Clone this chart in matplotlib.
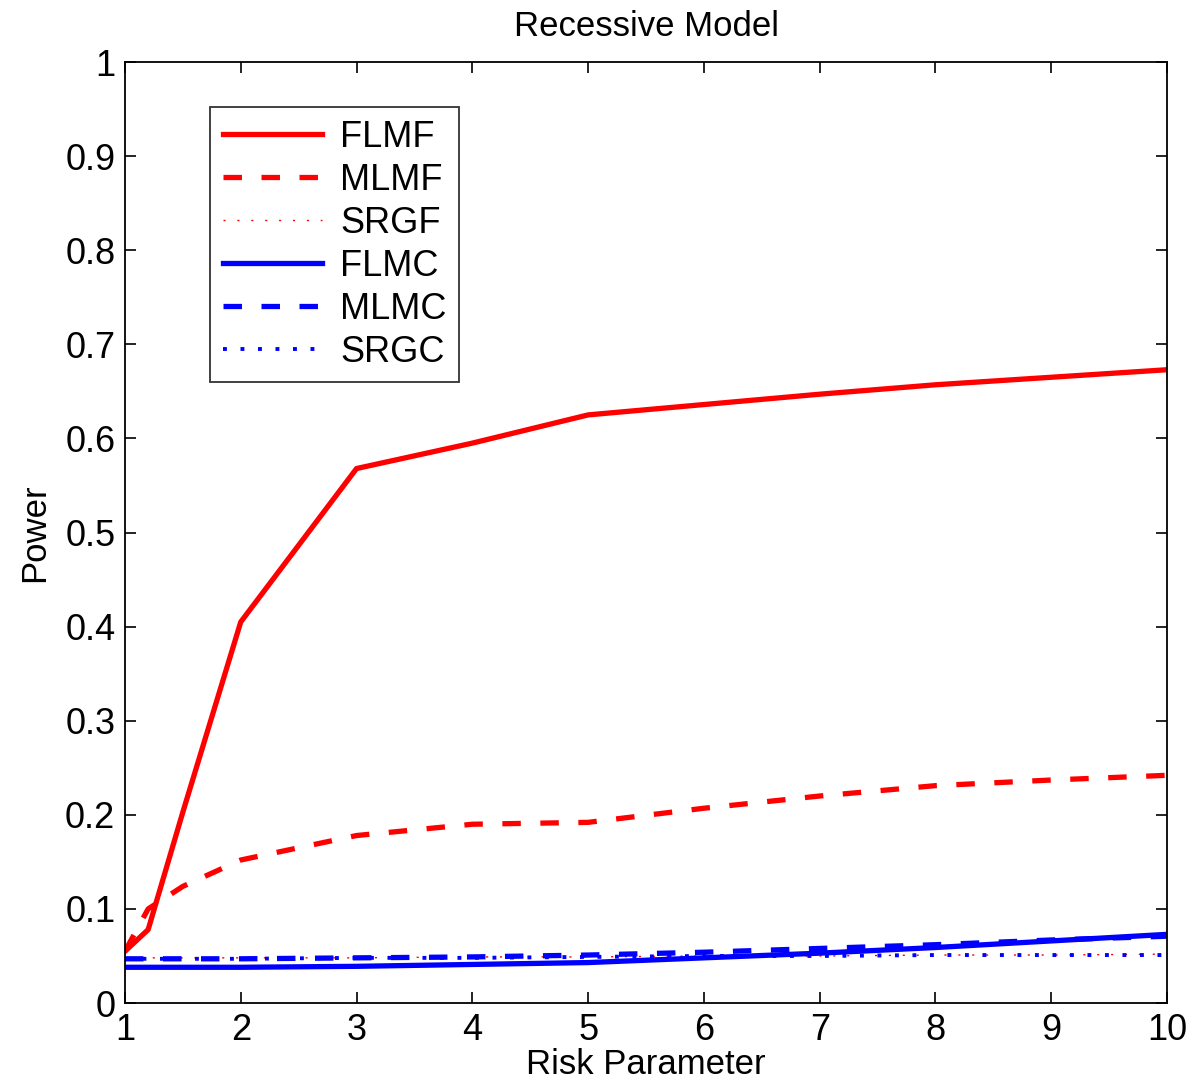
import matplotlib

matplotlib.use("Agg")

import matplotlib.pyplot as plt
from matplotlib.ticker import FixedLocator, FuncFormatter

plt.rcParams["font.family"] = ["Liberation Sans", "DejaVu Sans"]

# Risk parameter grid and power curves
risk = [1, 1.2, 1.5, 2, 3, 4, 5, 6, 7, 8, 9, 10]
flmf = [0.055, 0.078, 0.203, 0.405, 0.568, 0.595, 0.625, 0.636, 0.647, 0.657, 0.665, 0.673]
mlmf = [0.055, 0.100, 0.124, 0.152, 0.178, 0.190, 0.192, 0.207, 0.220, 0.231, 0.237, 0.242]
srgf = [0.048, 0.048, 0.048, 0.048, 0.048, 0.049, 0.049, 0.050, 0.050, 0.051, 0.051, 0.052]
flmc = [0.038, 0.038, 0.038, 0.038, 0.039, 0.041, 0.043, 0.048, 0.053, 0.059, 0.066, 0.073]
mlmc = [0.047, 0.047, 0.047, 0.047, 0.048, 0.049, 0.051, 0.054, 0.058, 0.062, 0.067, 0.071]
srgc = [0.047, 0.047, 0.047, 0.047, 0.048, 0.048, 0.049, 0.050, 0.050, 0.051, 0.051, 0.051]

xticks = list(range(1, 11))
yticks = [i / 10 for i in range(11)]

fig = plt.figure(figsize=(11.96, 10.86), dpi=100)
ax = fig.add_axes([0.1045, 0.0764, 0.8713, 0.8665])

ax.plot(risk, flmf, color="red", lw=3.8, ls="-", label="FLMF")
ax.plot(risk, mlmf, color="red", lw=3.8, ls=(0, (3.5, 3.7)), label="MLMF")
ax.plot(risk, srgf, color="red", lw=1.0, ls=(0, (1.5, 8.5)), label="SRGF")
ax.plot(risk, flmc, color="blue", lw=3.8, ls="-", label="FLMC")
ax.plot(risk, mlmc, color="blue", lw=3.8, ls=(0, (3.5, 3.7)), label="MLMC")
ax.plot(risk, srgc, color="blue", lw=2.8, ls=(0, (1.0, 3.5)), label="SRGC")

ax.set_xlim(1, 10)
ax.set_ylim(0, 1)
ax.xaxis.set_major_locator(FixedLocator(xticks))
ax.yaxis.set_major_locator(FixedLocator(yticks))
ax.yaxis.set_major_formatter(FuncFormatter(lambda v, p: f"{v:g}"))
ax.tick_params(direction="in", length=8, width=1.2, top=True, right=True,
               labelsize=26, pad=7)
for s in ax.spines.values():
    s.set_linewidth(1.3)

ax.set_title("Recessive Model", fontsize=25, pad=19)
ax.set_xlabel("Risk Parameter", fontsize=25, labelpad=0)
ax.set_ylabel("Power", fontsize=25, labelpad=10)

leg = ax.legend(loc="upper left", bbox_to_anchor=(0.0816, 0.952), borderaxespad=0,
                fontsize=26, handlelength=2.75, labelspacing=0.22, handletextpad=0.5,
                borderpad=0.35, fancybox=False, frameon=True)
leg.get_frame().set_edgecolor("black")
leg.get_frame().set_linewidth(1.3)

fig.savefig("out.png", dpi=100)
